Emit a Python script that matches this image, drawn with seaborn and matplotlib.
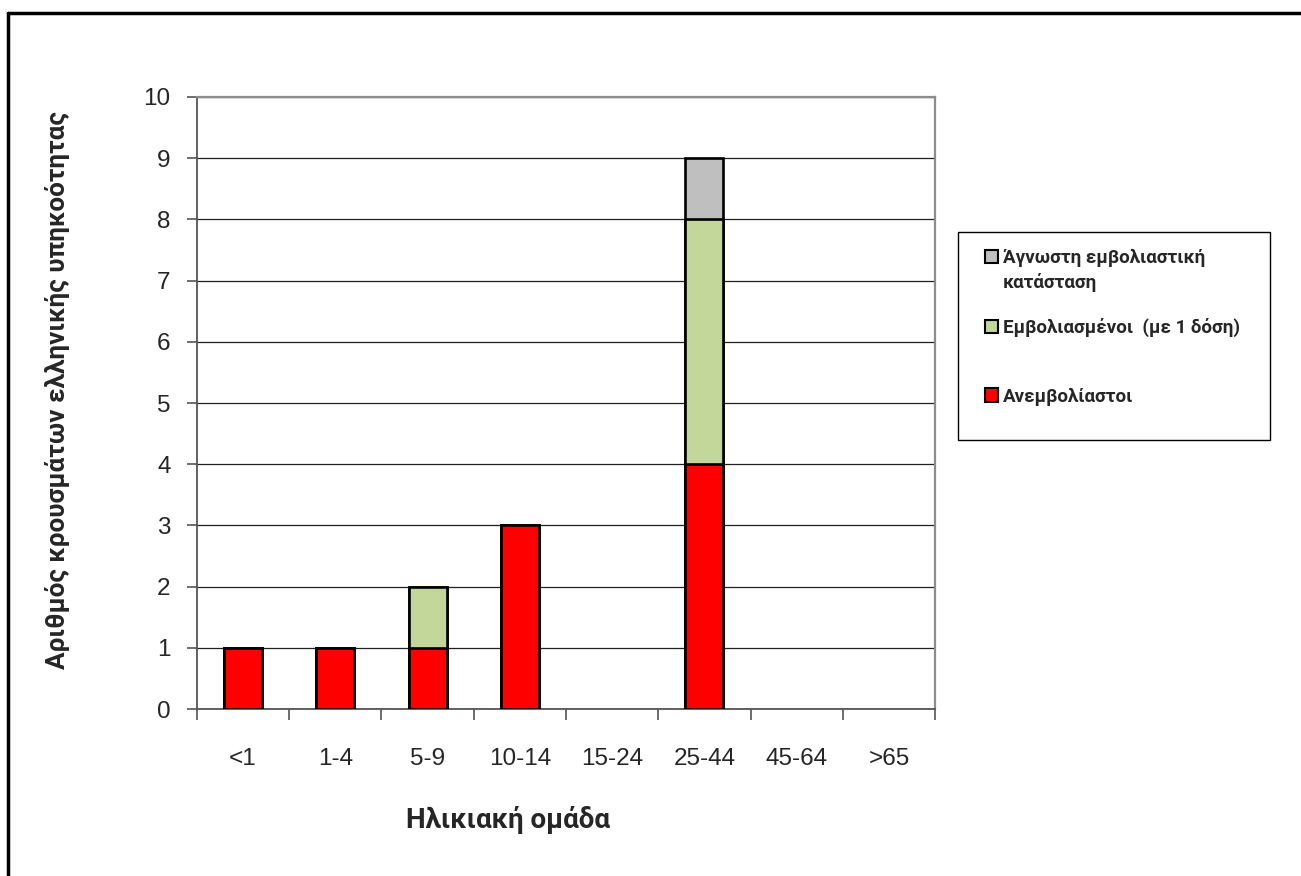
import numpy as np
import pandas as pd
import seaborn as sns
import matplotlib.pyplot as plt
from matplotlib.patches import Patch, Rectangle
from matplotlib.lines import Line2D

# Data
age_groups = ['<1', '1-4', '5-9', '10-14', '15-24', '25-44', '45-64', '>65']
unvaccinated = [1, 1, 1, 3, 0, 4, 0, 0]
vaccinated_1dose = [0, 0, 1, 0, 0, 4, 0, 0]
unknown_status = [0, 0, 0, 0, 0, 1, 0, 0]

labels = ['Ανεμβολίαστοι', 'Εμβολιασμένοι  (με 1 δόση)', 'Άγνωστη εμβολιαστική']
label_second_line = 'κατάσταση'
colors = ['#FF0000', '#C4D79B', '#BFBFBF']

# cumulative heights so the layers can be drawn on top of each other
df = pd.DataFrame({'age': age_groups, 'u': unvaccinated,
                   'v': vaccinated_1dose, 'k': unknown_status})
df['c1'] = df['u']
df['c2'] = df['u'] + df['v']
df['c3'] = df['u'] + df['v'] + df['k']
for c in ['c1', 'c2', 'c3']:
    df[c] = df[c].where(df[c] > 0)  # no outline for empty bars

sns.set_style('white')
plt.rcParams['font.family'] = ['Liberation Sans', 'DejaVu Sans']

fig = plt.figure(figsize=(13.01, 8.76), dpi=100)
ax = fig.add_axes([0.1514, 0.1906, 0.5673, 0.6987])

for col, color in zip(['c3', 'c2', 'c1'], colors[::-1]):
    sns.barplot(data=df, x='age', y=col, color=color, saturation=1,
                width=0.41, edgecolor='black', linewidth=1.9, ax=ax,
                zorder=3, order=age_groups)

ax.set_ylim(0, 10)
ax.set_xlim(-0.5, len(age_groups) - 0.5)
ax.set_yticks(range(0, 11))
ax.yaxis.grid(True, color='#202020', linewidth=0.9)
ax.set_axisbelow(True)
ax.set_xlabel('')
ax.set_ylabel('')

for s in ['left', 'bottom']:
    ax.spines[s].set_color('#555555')
    ax.spines[s].set_linewidth(1.3)
for s in ['top', 'right']:
    ax.spines[s].set_color('#8c8c8c')
    ax.spines[s].set_linewidth(1.6)

ax.tick_params(axis='y', direction='out', length=7, width=1.2, color='#555555',
               labelsize=17.5, pad=12, left=True)
ax.set_xticks(np.arange(-0.5, len(age_groups), 1.0), minor=True)
ax.tick_params(axis='x', which='minor', direction='out', length=8, width=1.2,
               color='#555555', bottom=True)
ax.tick_params(axis='x', which='major', length=0, labelsize=17.5, pad=28)

bold_font = ['Roboto', 'DejaVu Sans']
fig.text(0.044, 0.555, 'Αριθμός κρουσμάτων ελληνικής υπηκοότητας',
         rotation=90, ha='center', va='center', fontsize=18.8,
         fontweight='bold', family=bold_font)
fig.text(0.3905, 0.064, 'Ηλικιακή ομάδα', ha='center', va='center',
         fontsize=20, fontweight='bold', family=bold_font)

# legend box
fig.add_artist(Rectangle((0.7363, 0.498), 0.2398, 0.237, transform=fig.transFigure,
                         fill=False, edgecolor='black', linewidth=1.0))
handles = [Patch(facecolor=c, edgecolor='black', linewidth=1.5) for c in colors[::-1]]
leg = fig.legend(handles, labels[::-1], loc='upper left',
                 bbox_to_anchor=(0.744, 0.735), frameon=False,
                 prop={'family': bold_font, 'weight': 'bold', 'size': 13.5},
                 handlelength=0.7, handleheight=0.7, handletextpad=0.25,
                 labelspacing=2.7)
fig.text(0.7705, 0.678, label_second_line, ha='left', va='center',
         fontsize=13.5, fontweight='bold', family=bold_font)

# outer border (left and top)
fig.add_artist(Line2D([0.0065, 0.0065], [0, 0.985], transform=fig.transFigure,
                      color='black', linewidth=2.5))
fig.add_artist(Line2D([0.0065, 1], [0.985, 0.985], transform=fig.transFigure,
                      color='black', linewidth=2.5))

fig.savefig('out.png', dpi=100)
